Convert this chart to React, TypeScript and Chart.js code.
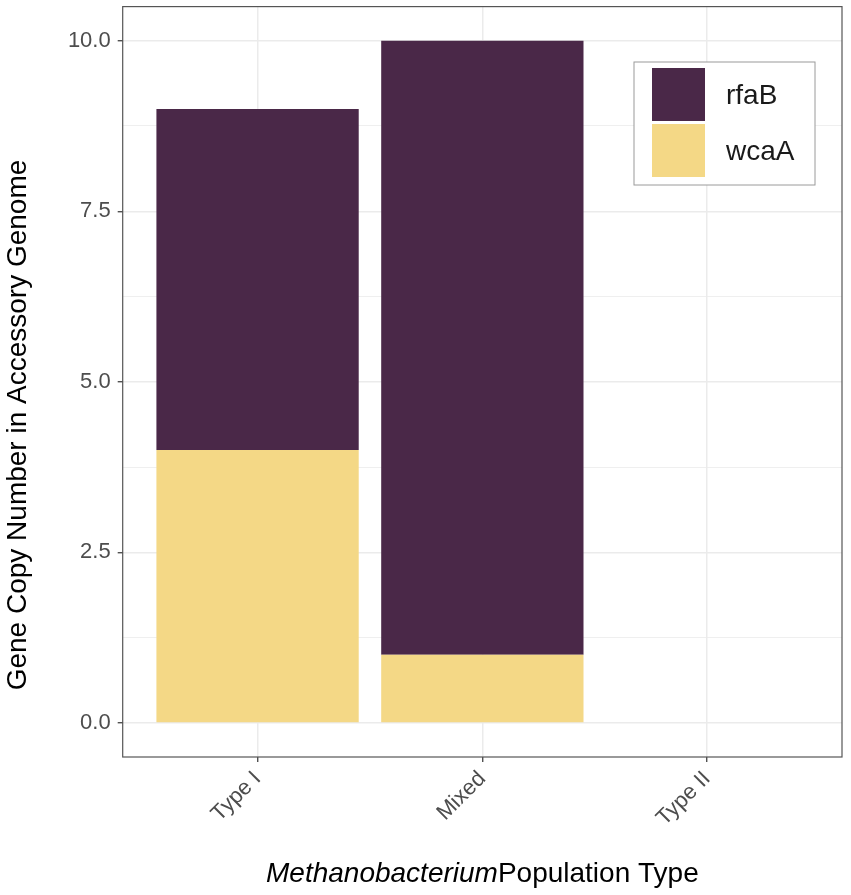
import React, { useEffect, useRef } from "react";
import Chart from "chart.js/auto";

const categories = ["Type I", "Mixed", "Type II"];
const wcaA = [4, 1, 0];
const rfaB = [5, 9, 0];
const yTicks = [0, 1.25, 2.5, 3.75, 5, 6.25, 7.5, 8.75, 10];
const yMajor = [0, 2.5, 5, 7.5, 10];

const PURPLE = "#4A2848";
const YELLOW = "#F4D886";
const FONT = "'Liberation Sans', Arial, Helvetica, sans-serif";

// ggplot-like panel border, axis titles and inside legend
const decorations = {
  id: "decorations",
  afterDraw(chart: Chart) {
    const { ctx, chartArea } = chart;
    const { left, right, top, bottom } = chartArea;
    ctx.save();

    ctx.strokeStyle = "#555555";
    ctx.lineWidth = 1.2;
    ctx.strokeRect(left, top, right - left, bottom - top);

    // y title
    ctx.fillStyle = "#000000";
    ctx.font = `28px ${FONT}`;
    ctx.textAlign = "center";
    ctx.textBaseline = "middle";
    ctx.save();
    ctx.translate(18, 425);
    ctx.rotate(-Math.PI / 2);
    ctx.fillText("Gene Copy Number in Accessory Genome", 0, 0);
    ctx.restore();

    // x title with italic genus
    const italic = "Methanobacterium";
    const rest = "Population Type";
    ctx.font = `italic 28px ${FONT}`;
    const w1 = ctx.measureText(italic).width;
    ctx.font = `28px ${FONT}`;
    const w2 = ctx.measureText(rest).width;
    const startX = (left + right) / 2 - (w1 + w2) / 2;
    ctx.textAlign = "left";
    ctx.textBaseline = "alphabetic";
    ctx.font = `italic 28px ${FONT}`;
    ctx.fillText(italic, startX, 882);
    ctx.font = `28px ${FONT}`;
    ctx.fillText(rest, startX + w1, 882);

    // legend
    const lx = 634, ly = 62, lw = 181, lh = 123;
    ctx.fillStyle = "#ffffff";
    ctx.fillRect(lx, ly, lw, lh);
    ctx.strokeStyle = "#9a9a9a";
    ctx.lineWidth = 1;
    ctx.strokeRect(lx, ly, lw, lh);
    const items = [...chart.data.datasets].reverse();
    items.forEach((ds, i) => {
      const ky = 68 + i * 56;
      ctx.fillStyle = ds.backgroundColor as string;
      ctx.fillRect(652, ky, 53, 53);
      ctx.fillStyle = "#1a1a1a";
      ctx.font = `28px ${FONT}`;
      ctx.textBaseline = "middle";
      ctx.fillText(ds.label as string, 726, ky + 28);
    });

    ctx.restore();
  },
};

const App = () => {
  const canvasRef = useRef<HTMLCanvasElement | null>(null);

  useEffect(() => {
    document.body.style.margin = "0";
    if (!canvasRef.current) return;

    const chart = new Chart(canvasRef.current, {
      type: "bar",
      data: {
        datasets: [
          {
            label: "wcaA",
            data: wcaA.map((v, i) => ({ x: i, y: v })),
            backgroundColor: YELLOW,
            borderWidth: 0,
          },
          {
            label: "rfaB",
            data: rfaB.map((v, i) => ({ x: i, y: v })),
            backgroundColor: PURPLE,
            borderWidth: 0,
          },
        ],
      },
      options: {
        animation: false,
        responsive: false,
        devicePixelRatio: 1,
        layout: { padding: { top: 6.6, right: 9, left: 0, bottom: 0 } },
        datasets: { bar: { categoryPercentage: 0.9, barPercentage: 1 } },
        plugins: {
          legend: { display: false },
          tooltip: { enabled: false },
        },
        scales: {
          x: {
            type: "linear",
            stacked: true,
            offset: false,
            min: -0.6,
            max: 2.6,
            afterBuildTicks: (scale: any) => {
              scale.ticks = categories.map((_, i) => ({ value: i }));
            },
            afterFit: (scale: any) => {
              scale.height = 138;
              scale.paddingLeft = 0;
              scale.paddingRight = 0;
            },
            ticks: {
              autoSkip: false,
              minRotation: 45,
              maxRotation: 45,
              padding: 4,
              color: "#4D4D4D",
              font: { family: FONT, size: 22 },
              callback: (v: any) => categories[v as number] ?? "",
            },
            grid: {
              offset: false,
              color: "#EBEBEB",
              lineWidth: 1.5,
              tickLength: 5,
              tickColor: "#333333",
              tickWidth: 1.2,
            },
            border: { display: false },
          },
          y: {
            type: "linear",
            stacked: true,
            min: -0.5,
            max: 10.5,
            afterBuildTicks: (scale: any) => {
              scale.ticks = yTicks.map((v) => ({ value: v }));
            },
            afterFit: (scale: any) => {
              scale.width = 122.7;
              scale.paddingTop = 0;
              scale.paddingBottom = 0;
            },
            ticks: {
              padding: 7,
              color: "#4D4D4D",
              font: { family: FONT, size: 22 },
              callback: (v: any) => (yMajor.includes(v as number) ? (v as number).toFixed(1) : ""),
            },
            grid: {
              color: "#EBEBEB",
              lineWidth: (c: any) => (yMajor.includes(c.tick?.value) ? 1.5 : 0.8),
              tickLength: 5,
              tickColor: (c: any) => (yMajor.includes(c.tick?.value) ? "#333333" : "rgba(0,0,0,0)"),
              tickWidth: 1.2,
            },
            border: { display: false },
          },
        },
      },
      plugins: [decorations],
    });

    return () => {
      chart.destroy();
    };
  }, []);

  return (
    <div style={{ width: 851, height: 895, background: "#ffffff" }}>
      <canvas ref={canvasRef} width={851} height={895} />
    </div>
  );
};

export default App;
